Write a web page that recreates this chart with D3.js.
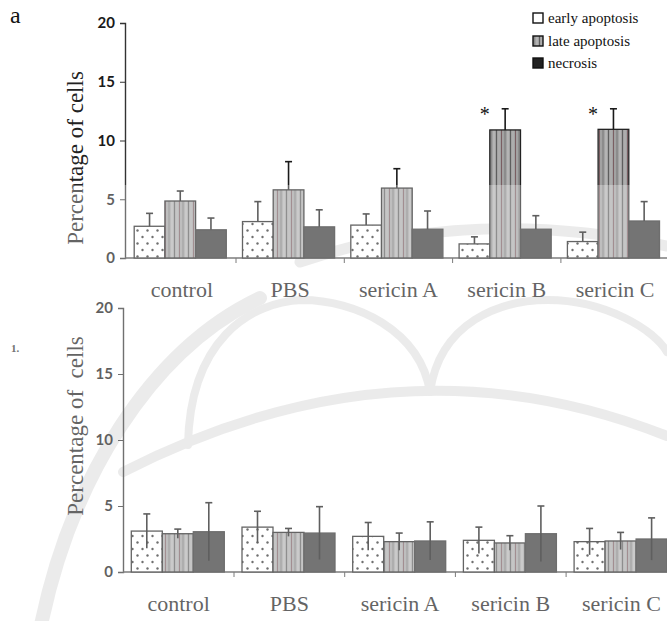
<!DOCTYPE html>
<html>
<head>
<meta charset="utf-8">
<script src="https://cdn.jsdelivr.net/npm/d3@7/dist/d3.min.js"></script>
<style>
  html, body { margin: 0; padding: 0; background: #fff; }
  svg { display: block; }
</style>
</head>
<body>
<svg id="chart" width="667" height="621"></svg>
<script>
// Groups and series
const categories = ["control", "PBS", "sericin A", "sericin B", "sericin C"];
const seriesNames = ["early apoptosis", "late apoptosis", "necrosis"];
const yTicks = [0, 5, 10, 15, 20];

// Panel a (upper): means and error (SD) per group
const upperEarly = [2.7, 3.1, 2.8, 1.2, 1.4];
const upperEarlyErr = [1.1, 1.7, 0.95, 0.6, 0.8];
const upperLate = [4.85, 5.8, 5.95, 10.9, 10.95];
const upperLateErr = [0.85, 2.4, 1.65, 1.8, 1.75];
const upperNecrosis = [2.4, 2.65, 2.45, 2.45, 3.15];
const upperNecrosisErr = [1.0, 1.45, 1.55, 1.15, 1.65];
const upperSignificant = [false, false, false, true, true]; // late apoptosis

// Lower panel
const lowerEarly = [3.1, 3.4, 2.7, 2.4, 2.3];
const lowerEarlyErr = [1.3, 1.2, 1.05, 1.0, 1.0];
const lowerLate = [2.9, 3.0, 2.3, 2.2, 2.35];
const lowerLateErr = [0.35, 0.3, 0.65, 0.55, 0.65];
const lowerNecrosis = [3.05, 2.95, 2.35, 2.9, 2.5];
const lowerNecrosisErr = [2.2, 2.0, 1.45, 2.1, 1.6];

const SERIF = "'Liberation Serif', 'Times New Roman', serif";
const HUMANIST = "Lato, 'Open Sans', sans-serif";

const svg = d3.select("#chart");
const defs = svg.append("defs");

// Faint background seal ornament
const ornament = svg.append("g").attr("fill", "none").attr("stroke", "#e3e3e3")
  .attr("stroke-linecap", "round");
[
  ["M40,630 C70,480 150,350 260,298", 14],
  ["M123,472 Q400,330 667,436", 10],
  ["M188,445 C190,340 250,302 302,300 C355,300 420,330 430,392", 8],
  ["M430,392 C440,322 500,300 548,300 C605,300 655,330 667,352", 8],
  ["M300,262 Q470,205 667,246", 11]
].forEach(([d, w]) => ornament.append("path").attr("d", d).attr("stroke-width", w));

// Dotted fill for early apoptosis
const dots = defs.append("pattern").attr("id", "dots")
  .attr("patternUnits", "userSpaceOnUse").attr("width", 10).attr("height", 13);
dots.append("rect").attr("width", 10).attr("height", 13).attr("fill", "#fff");
dots.append("circle").attr("cx", 2.5).attr("cy", 3).attr("r", 1.2).attr("fill", "#333");
dots.append("circle").attr("cx", 7.5).attr("cy", 9.5).attr("r", 1.2).attr("fill", "#333");

// Vertical-striped grey fill for late apoptosis
const stripes = defs.append("pattern").attr("id", "stripes")
  .attr("patternUnits", "userSpaceOnUse").attr("width", 14).attr("height", 10);
stripes.append("rect").attr("width", 14).attr("height", 10).attr("fill", "#a2a2a2");
[[0, 2, "#8c8c8c"], [3, 2, "#b4b4b4"], [6, 1, "#5e5e5e"], [8, 2, "#adadad"], [11, 1, "#7a5e62"]]
  .forEach(([x, w, c]) => stripes.append("rect").attr("x", x).attr("width", w).attr("height", 10).attr("fill", c));

const fills = ["url(#dots)", "url(#stripes)", "#383838"];
const strokes = ["#222", "#222", "#303030"];

function drawPanel(cfg) {
  const { means, errs, x0, x1, yBottom, yTop, axisX, groupOffset, barW, twoSided, yLabel, labelY, ylabelCY } = cfg;
  const y = d3.scaleLinear().domain([0, 20]).range([yBottom, yTop]);
  const xBand = d3.scaleBand().domain(categories).range([x0, x1]).padding(0);
  const xSub = d3.scaleBand().domain(seriesNames).range([groupOffset, groupOffset + 3 * barW]).padding(0);
  const g = svg.append("g");

  // y axis
  const yAxis = d3.axisLeft(y).tickValues(yTicks).tickSize(5).tickPadding(5);
  const ya = g.append("g").attr("transform", `translate(${axisX},0)`).call(yAxis);
  ya.select(".domain").attr("stroke", "#333").attr("stroke-width", 1.4);
  ya.selectAll(".tick line").attr("stroke", "#333");
  ya.selectAll(".tick text").style("font-family", HUMANIST).style("font-size", "15px")
    .style("font-weight", 700).attr("fill", "#1a1a1a");

  // x axis baseline with group separators
  const xa = g.append("g").attr("transform", `translate(0,${yBottom})`);
  xa.append("line").attr("x1", axisX).attr("x2", 667).attr("stroke", "#444").attr("stroke-width", 1.3);
  xa.selectAll("line.sep").data(categories.slice(1)).join("line").attr("class", "sep")
    .attr("x1", d => xBand(d)).attr("x2", d => xBand(d)).attr("y1", 0).attr("y2", 5)
    .attr("stroke", "#444");
  xa.selectAll("text").data(categories).join("text")
    .style("font-family", SERIF).style("font-size", "22px")
    .attr("x", d => xBand(d) + xBand.bandwidth() / 2).attr("y", labelY - yBottom)
    .attr("text-anchor", "middle").attr("fill", "#222").text(d => d);

  // y axis title
  g.append("text")
    .attr("transform", `translate(83,${ylabelCY}) rotate(-90)`)
    .attr("text-anchor", "middle").attr("fill", "#222")
    .style("font-family", SERIF).style("font-size", "23px")
    .style("white-space", "pre").text(yLabel);

  // bars
  seriesNames.forEach((s, si) => {
    const rows = categories.map((c, i) => ({ c, v: means[si][i], e: errs[si][i] }));
    const bx = d => xBand(d.c) + xSub(s);
    g.selectAll(null).data(rows).join("rect")
      .attr("x", bx).attr("y", d => y(d.v))
      .attr("width", xSub.bandwidth()).attr("height", d => y(0) - y(d.v))
      .attr("fill", fills[si]).attr("stroke", strokes[si]).attr("stroke-width", 1.3);
    // error bars
    const cx = d => bx(d) + xSub.bandwidth() / 2;
    g.selectAll(null).data(rows).join("line")
      .attr("x1", cx).attr("x2", cx)
      .attr("y1", d => y(twoSided ? d.v - d.e : d.v)).attr("y2", d => y(d.v + d.e))
      .attr("stroke", "#1a1a1a").attr("stroke-width", 1.6);
    g.selectAll(null).data(rows).join("line")
      .attr("x1", d => cx(d) - 3.5).attr("x2", d => cx(d) + 3.5)
      .attr("y1", d => y(d.v + d.e)).attr("y2", d => y(d.v + d.e))
      .attr("stroke", "#1a1a1a").attr("stroke-width", 1.6);
  });

  return { y, xBand, xSub, g };
}

// Upper panel (a)
const upper = drawPanel({
  means: [upperEarly, upperLate, upperNecrosis],
  errs: [upperEarlyErr, upperLateErr, upperNecrosisErr],
  x0: 127.7, x1: 669.2, yBottom: 258, yTop: 23, axisX: 125,
  groupOffset: 6.5, barW: 30.7, twoSided: false,
  yLabel: "Percentage of cells", labelY: 297, ylabelCY: 158
});

// significance markers on late apoptosis
upper.g.selectAll(null).data(categories.filter((c, i) => upperSignificant[i])).join("text")
  .style("font-family", SERIF).style("font-size", "20px")
  .attr("x", c => upper.xBand(c) + upper.xSub("late apoptosis") - 5)
  .attr("y", c => { const i = categories.indexOf(c); return upper.y(upperLate[i] + upperLateErr[i]) + 12; })
  .attr("text-anchor", "middle").attr("fill", "#111").text("*");

// Lower panel
drawPanel({
  means: [lowerEarly, lowerLate, lowerNecrosis],
  errs: [lowerEarlyErr, lowerLateErr, lowerNecrosisErr],
  x0: 123.3, x1: 676.8, yBottom: 572, yTop: 308, axisX: 123,
  groupOffset: 8, barW: 31, twoSided: true,
  yLabel: "Percentage of  cells", labelY: 611, ylabelCY: 426
});

// Panel letters
svg.append("text").style("font-family", SERIF).style("font-size", "24px")
  .attr("x", 10).attr("y", 23).attr("fill", "#111").text("a");
svg.append("text").style("font-family", SERIF).style("font-size", "11px").style("font-weight", 700)
  .attr("x", 11).attr("y", 352).attr("fill", "#333").text("1.");

// Legend
const legend = svg.append("g").attr("transform", "translate(533,0)");
const legendFills = ["#fff", "url(#stripes)", "#222"];
seriesNames.forEach((s, i) => {
  const cy = [18, 41, 63][i];
  legend.append("rect").attr("x", 0).attr("y", cy - 5).attr("width", 10).attr("height", 10)
    .attr("fill", legendFills[i]).attr("stroke", "#111").attr("stroke-width", 1.4);
  legend.append("text").style("font-family", SERIF).style("font-size", "15px")
    .attr("x", 15).attr("y", cy).attr("dy", "0.35em").attr("fill", "#111").text(s);
});

// Light haze over the lower part of the page
svg.append("rect").attr("x", 0).attr("y", 185).attr("width", 667).attr("height", 436)
  .attr("fill", "#fff").attr("opacity", 0.3);
</script>
</body>
</html>
